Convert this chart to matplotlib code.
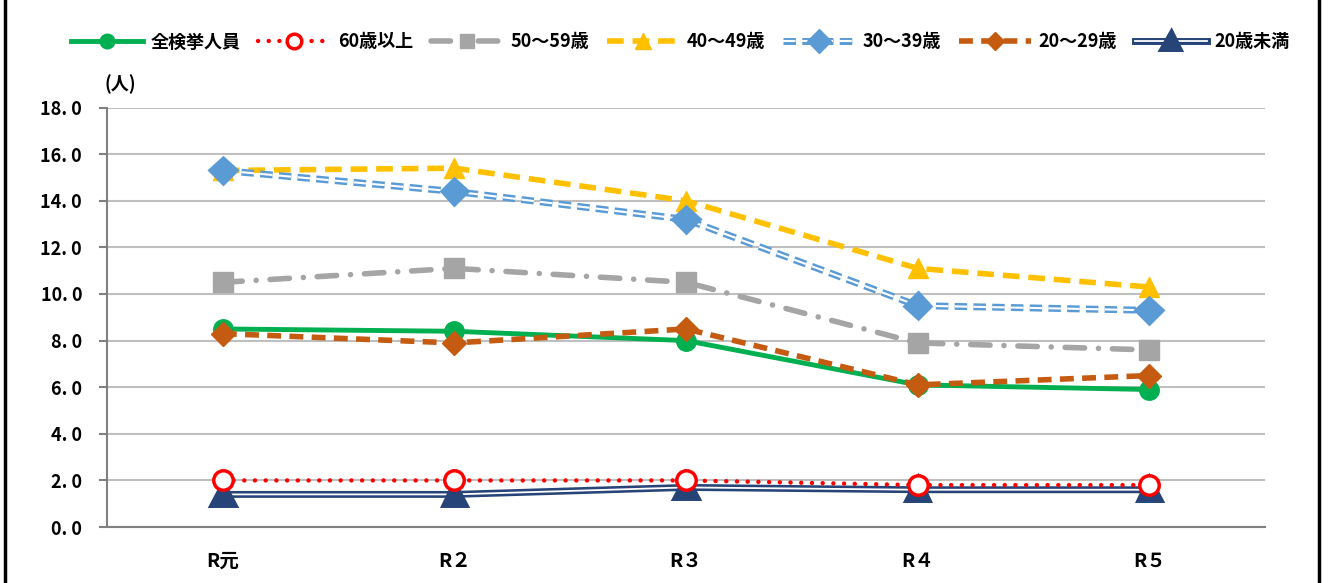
import numpy as np
import matplotlib
matplotlib.use('Agg')
import matplotlib.pyplot as plt
import matplotlib.patheffects as pe

plt.rcParams['font.family'] = ['Noto Sans CJK JP', 'DejaVu Sans']

years = ['R元', 'R２', 'R３', 'R４', 'R５']
total = [8.5, 8.4, 8.0, 6.1, 5.9]
over60 = [2.0, 2.0, 2.0, 1.8, 1.8]
age50s = [10.5, 11.1, 10.5, 7.9, 7.6]
age40s = [15.3, 15.4, 14.0, 11.1, 10.3]
age30s = [15.3, 14.4, 13.2, 9.5, 9.3]
age20s = [8.3, 7.9, 8.5, 6.1, 6.5]
under20 = [1.4, 1.4, 1.7, 1.6, 1.6]

fig = plt.figure(figsize=(13.28, 5.83), dpi=100)
ax = fig.add_axes([0.0806, 0.096, 0.872, 0.7195])
x = np.arange(len(years))

# drawn back to front
ax.plot(x, under20, color='white', lw=1.3, marker='^', ms=14, mfc='#264478', mec='#264478',
        path_effects=[pe.Stroke(linewidth=5, foreground='#264478'), pe.Normal()], label='20歳未満', zorder=3)
ax.plot(x, over60, color='#FF0000', lw=3.2, ls=(0, (0.01, 2.4)), dash_capstyle='round',
        marker='o', ms=14, mfc='white', mec='#FF0000', mew=2.5, label='60歳以上', zorder=4)
ax.plot(x, age50s, color='#A5A5A5', lw=4, ls=(0, (3.5, 2.5, 0.01, 2.5)), dash_capstyle='round',
        marker='s', ms=14, mfc='#A5A5A5', mec='#A5A5A5', label='50～59歳', zorder=3)
ax.plot(x, age40s, color='#FFC000', lw=4, ls=(0, (3, 1.6)), marker='^', ms=15,
        mfc='#FFC000', mec='#FFC000', label='40～49歳', zorder=3)
ax.plot(x, age30s, color='white', lw=1.5, ls=(0, (6, 3)), marker='D', ms=11,
        mfc='#5B9BD5', mec='#5B9BD5',
        path_effects=[pe.Stroke(linewidth=5, foreground='#5B9BD5'), pe.Normal()], label='30～39歳', zorder=4)
ax.plot(x, total, color='#00B050', lw=3.5, marker='o', ms=14, mfc='#00B050', mec='#00B050',
        label='全検挙人員', zorder=5)
ax.plot(x, age20s, color='#C55A11', lw=4, ls=(0, (2.5, 1.5)), marker='D', ms=12,
        mfc='#C55A11', mec='#C55A11', label='20～29歳', zorder=5)

ax.set_xlim(-0.5, 4.5)
ax.set_ylim(0, 18)
ax.set_yticks(np.arange(0, 18.1, 2))
ax.set_yticklabels(['%d. %d' % (int(v), int(round(v * 10)) % 10) for v in np.arange(0, 18.1, 2)],
                   fontsize=13, fontweight='bold')
ax.set_xticks(x)
ax.set_xticklabels(years, fontsize=14, fontweight='bold')
ax.tick_params(axis='x', length=0, pad=18)
ax.tick_params(axis='y', length=6, width=1.5, color='#808080', pad=12)
ax.grid(axis='y', color='#BFBFBF', lw=1.5)
ax.set_axisbelow(True)
for s in ['top', 'right']:
    ax.spines[s].set_visible(False)
for s in ['left', 'bottom']:
    ax.spines[s].set_color('#808080')
    ax.spines[s].set_linewidth(1.5)

fig.text(0.0785, 0.845, '(人)', fontsize=13, fontweight='bold')

h, l = ax.get_legend_handles_labels()
order = ['全検挙人員', '60歳以上', '50～59歳', '40～49歳', '30～39歳', '20～29歳', '20歳未満']
hs = [h[l.index(o)] for o in order]
fig.legend(hs, order, loc='center', bbox_to_anchor=(0.512, 0.928), ncol=7, frameon=False,
           prop={'size': 13, 'weight': 'bold'}, handlelength=4, handletextpad=0.4,
           columnspacing=1.0, markerscale=0.75)

fig.add_artist(plt.Line2D([0.004, 0.004], [0, 1], color='black', lw=2.5, transform=fig.transFigure))
fig.add_artist(plt.Line2D([0.9935, 0.9935], [0, 1], color='black', lw=2.5, transform=fig.transFigure))

fig.savefig('out.png', dpi=100)
